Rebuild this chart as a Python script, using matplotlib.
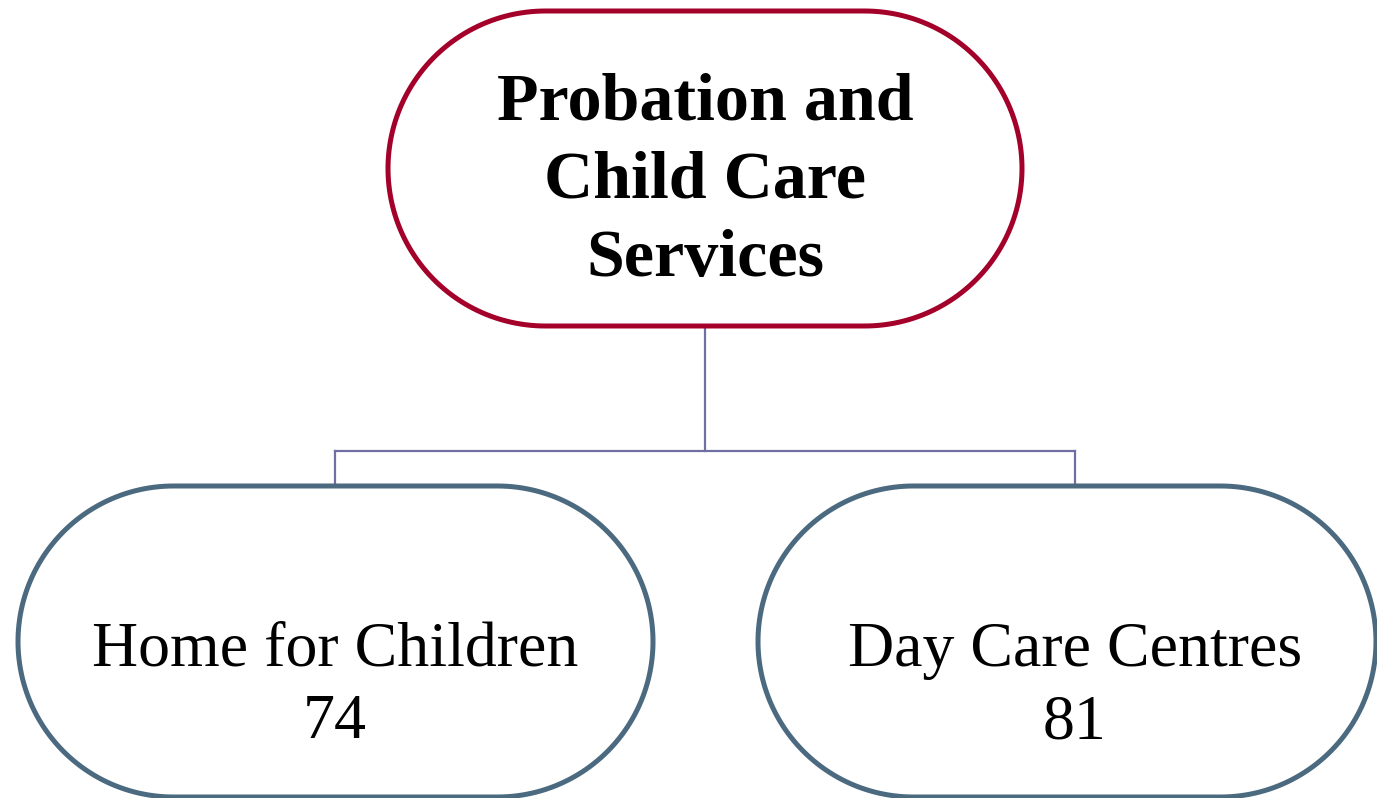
import matplotlib
matplotlib.use("Agg")
import matplotlib.pyplot as plt
import numpy as np
from matplotlib.path import Path
from matplotlib.patches import PathPatch

W, H = 1377, 798

root_label = "Probation and\nChild Care\nServices"
child_names = ["Home for Children", "Day Care Centres"]
child_values = [74, 81]

RED = "#A3002A"
BLUE = "#4B6A80"
LINE = "#6F6FA3"

fig = plt.figure(figsize=(W / 100, H / 100), dpi=100)
ax = fig.add_axes([0, 0, 1, 1])
ax.set_xlim(0, W)
ax.set_ylim(H, 0)
ax.axis("off")

def stadium(x0, y0, x1, y1, color):
    r = (y1 - y0) / 2
    cy = (y0 + y1) / 2
    t1 = np.linspace(-np.pi / 2, np.pi / 2, 100)
    t2 = np.linspace(np.pi / 2, 3 * np.pi / 2, 100)
    xs = np.concatenate([x1 - r + r * np.cos(t1), x0 + r + r * np.cos(t2)])
    ys = np.concatenate([cy + r * np.sin(t1), cy + r * np.sin(t2)])
    verts = np.column_stack([np.append(xs, xs[0]), np.append(ys, ys[0])])
    p = PathPatch(Path(verts, closed=True), facecolor="white", edgecolor=color,
                  linewidth=3.6, zorder=2, clip_on=False)
    ax.add_patch(p)

# root
rx0, ry0, rx1, ry1 = 388, 11, 1022, 326
stadium(rx0, ry0, rx1, ry1, RED)
ax.text((rx0 + rx1) / 2, 181, root_label, ha="center", va="center",
        fontsize=49, fontweight="bold", family="Liberation Serif",
        linespacing=1.37, zorder=3)

# children
boxes = [(18, 486, 653, 797), (758, 486, 1376, 797)]
centers = [335, 1075]

# connectors
ax.plot([705, 705], [ry1, 451], color=LINE, lw=1.6, zorder=1)
ax.plot([centers[0], centers[1]], [451, 451], color=LINE, lw=1.6, zorder=1)
for c in centers:
    ax.plot([c, c], [451, 486], color=LINE, lw=1.6, zorder=1)

for (x0, y0, x1, y1), c, name, val in zip(boxes, centers, child_names, child_values):
    stadium(x0, y0, x1, y1, BLUE)
    ax.text(c, 687, f"{name}\n{val}", ha="center", va="center",
            fontsize=46, family="Liberation Serif", linespacing=1.33, zorder=3)

fig.savefig("out.png", dpi=100)
